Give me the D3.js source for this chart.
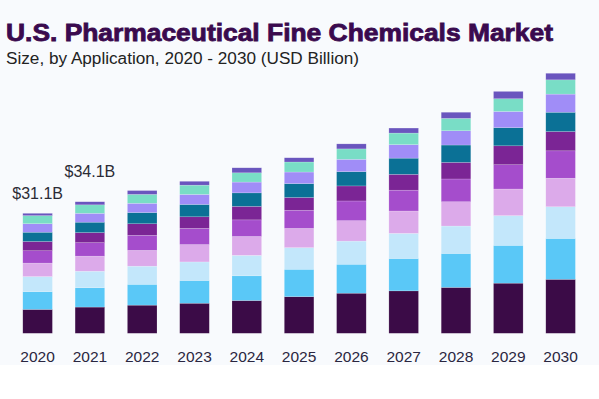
<!DOCTYPE html>
<html>
<head>
<meta charset="utf-8">
<script src="https://cdn.jsdelivr.net/npm/d3@7"></script>
<style>
  html, body { margin: 0; padding: 0; background: #f8fafd; }
  svg { display: block; }
</style>
</head>
<body>
<div id="chart"></div>
<script>
// data (USD billion)
var years = ["2020", "2021", "2022", "2023", "2024", "2025", "2026", "2027", "2028", "2029", "2030"];
var segments = ["seg1", "seg2", "seg3", "seg4", "seg5", "seg6", "seg7", "seg8", "seg9", "seg10"];

// bottom to top
var seg1  = [6.2, 6.8, 7.3, 7.8, 8.5, 9.5, 10.4, 11.0, 11.9, 13.0, 14.0];
var seg2  = [4.6, 5.0, 5.4, 5.9, 6.4, 7.1, 7.5, 8.4, 8.8, 9.8, 10.6];
var seg3  = [3.9, 4.3, 4.7, 4.8, 5.3, 5.6, 6.0, 6.5, 7.1, 7.7, 8.2];
var seg4  = [3.5, 3.9, 4.1, 4.5, 4.9, 5.0, 5.3, 5.8, 6.3, 6.9, 7.4];
var seg5  = [3.2, 3.5, 3.9, 4.2, 4.3, 4.7, 5.1, 5.4, 5.9, 6.3, 7.1];
var seg6  = [2.4, 2.6, 3.0, 3.0, 3.5, 3.3, 3.9, 4.1, 4.3, 4.9, 5.0];
var seg7  = [2.4, 2.7, 2.9, 3.2, 3.5, 3.6, 3.7, 4.2, 4.5, 4.7, 5.0];
var seg8  = [2.2, 2.3, 2.4, 2.6, 2.8, 3.0, 3.2, 3.5, 3.7, 4.2, 4.7];
var seg9  = [2.1, 2.2, 2.3, 2.4, 2.4, 2.6, 2.7, 3.0, 3.2, 3.3, 3.7];
var seg10 = [0.6, 0.8, 1.0, 1.0, 1.3, 1.1, 1.3, 1.3, 1.6, 1.9, 1.7];

var labelYears = ["2020", "2021"];
var labelTexts = ["$31.1B", "$34.1B"];

var colors = ["#3b0b47", "#5ac8f7", "#c3e7fb", "#dcaaea", "#a54dcc",
              "#7b2595", "#0b7196", "#a08df7", "#79ddc6", "#6a55be"];

var seriesValues = [seg1, seg2, seg3, seg4, seg5, seg6, seg7, seg8, seg9, seg10];

var table = years.map(function(yr, i) {
  var row = {year: yr};
  segments.forEach(function(s, j) { row[s] = seriesValues[j][i]; });
  return row;
});

var width = 599, height = 399;

var svg = d3.select("#chart")
  .append("svg")
    .attr("width", width)
    .attr("height", height);

svg.append("rect")
  .attr("x", 0).attr("y", 365)
  .attr("width", width).attr("height", height - 365)
  .attr("fill", "#ffffff");

// title (stroked a little to get the heavy look)
svg.append("text")
  .attr("x", 6).attr("y", 41)
  .attr("font-family", "'Liberation Sans', Arial, sans-serif")
  .attr("font-weight", "bold")
  .attr("font-size", 23)
  .attr("textLength", 547)
  .attr("lengthAdjust", "spacingAndGlyphs")
  .attr("fill", "#3a0a4e")
  .attr("stroke", "#3a0a4e")
  .attr("stroke-width", 0.8)
  .text("U.S. Pharmaceutical Fine Chemicals Market");

svg.append("text")
  .attr("x", 6).attr("y", 64)
  .attr("font-family", "'Liberation Sans', Arial, sans-serif")
  .attr("font-size", 16)
  .attr("textLength", 353)
  .attr("lengthAdjust", "spacingAndGlyphs")
  .attr("fill", "#222222")
  .text("Size, by Application, 2020 - 2030 (USD Billion)");

// scales
var x = d3.scaleBand()
  .domain(years)
  .range([11.45, 586.75])
  .paddingInner(0.434)
  .paddingOuter(0.217);

var y = d3.scaleLinear()
  .domain([0, 70])
  .range([333.3, 333.3 - 70 * 3.858]);

var stack = d3.stack().keys(segments);
var layers = stack(table);

var g = svg.append("g");

g.selectAll(".layer")
  .data(layers)
  .enter()
  .append("g")
    .attr("class", "layer")
    .attr("fill", function(d, i) { return colors[i]; })
  .selectAll("rect")
  .data(function(d) { return d; })
  .enter()
  .append("rect")
    .attr("x", function(d) { return x(d.data.year); })
    .attr("width", x.bandwidth())
    .attr("y", function(d) { return y(d[1]); })
    .attr("height", function(d) { return y(d[0]) - y(d[1]); })
    .attr("stroke", "#ffffff")
    .attr("stroke-opacity", 0.35)
    .attr("stroke-width", 0.5);

// x axis
var xAxis = svg.append("g")
  .attr("transform", "translate(0,334)")
  .call(d3.axisBottom(x).tickSize(0).tickPadding(16.5));

xAxis.select(".domain").remove();
xAxis.selectAll("text")
  .attr("font-family", "'Liberation Sans', Arial, sans-serif")
  .attr("font-size", 15.5)
  .attr("fill", "#2a2640");

// value labels
var lift = [14, 25];
svg.selectAll(".valueLabel")
  .data(labelYears)
  .enter()
  .append("text")
    .attr("class", "valueLabel")
    .attr("x", function(d) { return x(d) + x.bandwidth() / 2; })
    .attr("y", function(d, i) {
      var idx = years.indexOf(d);
      var total = d3.sum(seriesValues, function(s) { return s[idx]; });
      return y(total) - lift[i];
    })
    .attr("text-anchor", "middle")
    .attr("font-family", "'Liberation Sans', Arial, sans-serif")
    .attr("font-size", 16)
    .attr("fill", "#2b2b35")
    .text(function(d, i) { return labelTexts[i]; });
</script>
</body>
</html>
